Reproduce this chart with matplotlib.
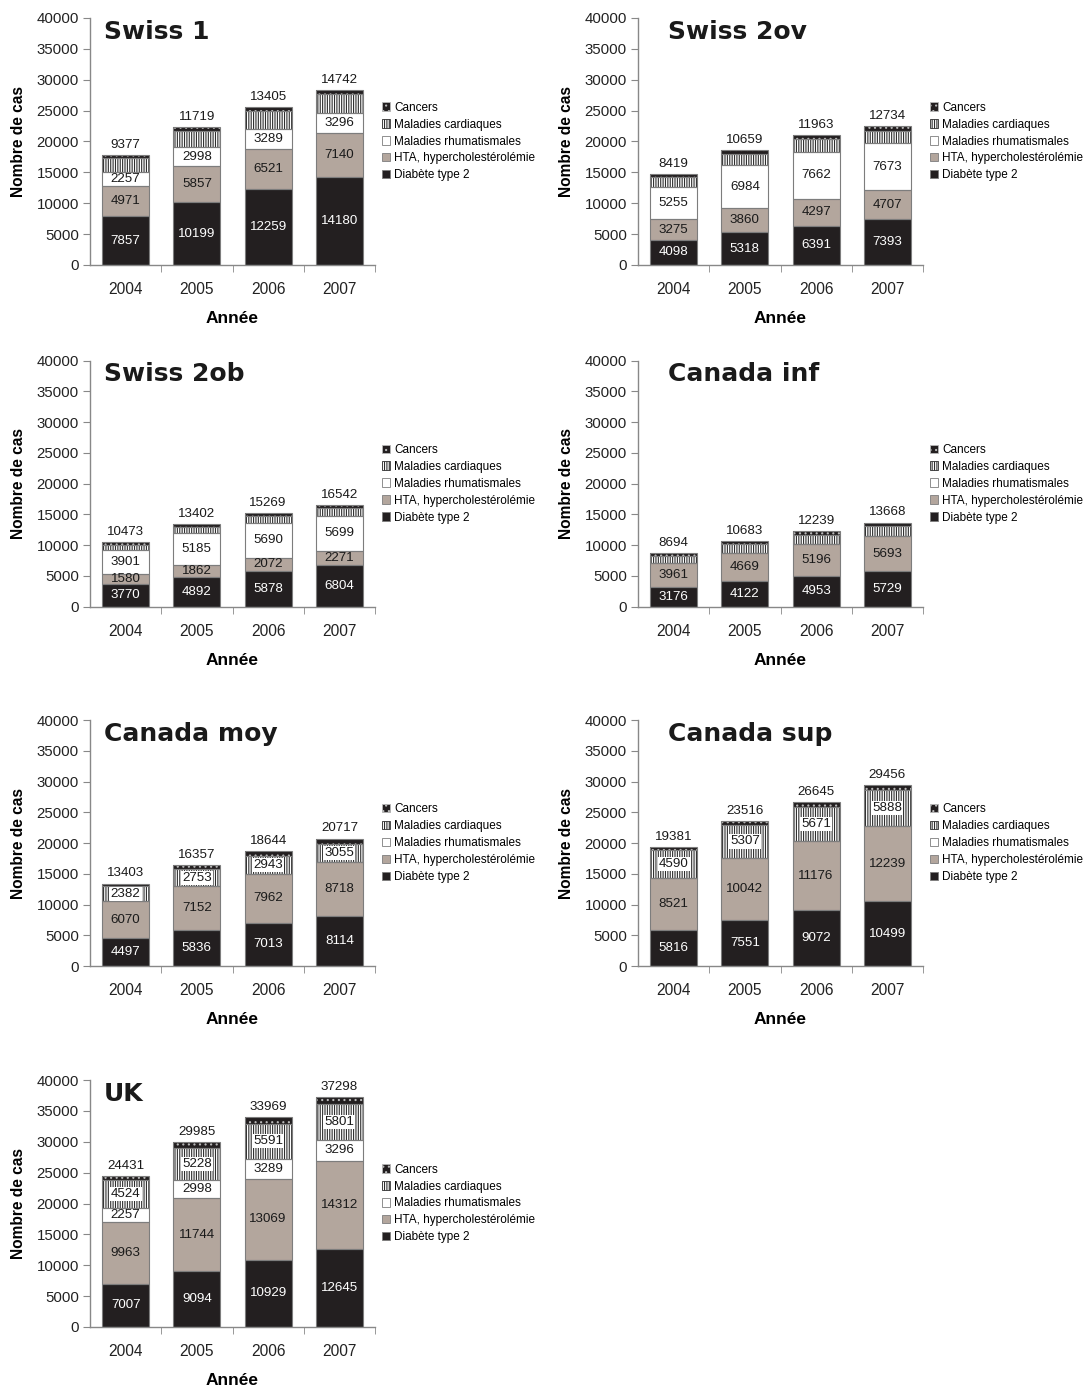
import matplotlib.pyplot as plt
from matplotlib.patches import Patch

plt.rcParams['font.family'] = ['Liberation Sans', 'DejaVu Sans']
plt.rcParams['hatch.linewidth'] = 0.8

years = ['2004', '2005', '2006', '2007']
panels = ['Swiss 1', 'Swiss 2ov', 'Swiss 2ob', 'Canada inf', 'Canada moy', 'Canada sup', 'UK']

# cases per disease group, one row per scenario
diabete = [
    [7857, 10199, 12259, 14180],
    [4098, 5318, 6391, 7393],
    [3770, 4892, 5878, 6804],
    [3176, 4122, 4953, 5729],
    [4497, 5836, 7013, 8114],
    [5816, 7551, 9072, 10499],
    [7007, 9094, 10929, 12645],
]
hta = [
    [4971, 5857, 6521, 7140],
    [3275, 3860, 4297, 4707],
    [1580, 1862, 2072, 2271],
    [3961, 4669, 5196, 5693],
    [6070, 7152, 7962, 8718],
    [8521, 10042, 11176, 12239],
    [9963, 11744, 13069, 14312],
]
rhumat = [
    [2257, 2998, 3289, 3296],
    [5255, 6984, 7662, 7673],
    [3901, 5185, 5690, 5699],
    [0, 0, 0, 0],
    [0, 0, 0, 0],
    [0, 0, 0, 0],
    [2257, 2998, 3289, 3296],
]
cardiaques = [
    [2270, 2710, 2930, 3070],
    [1660, 1840, 2000, 1990],
    [822, 993, 1109, 1208],
    [1137, 1382, 1530, 1636],
    [2382, 2753, 2943, 3055],
    [4590, 5307, 5671, 5888],
    [4524, 5228, 5591, 5801],
]
cancers = [
    [430, 540, 590, 650],
    [450, 620, 700, 800],
    [400, 470, 520, 560],
    [420, 510, 560, 610],
    [454, 616, 726, 830],
    [454, 616, 726, 830],
    [680, 921, 1091, 1244],
]
top_labels = [
    [9377, 11719, 13405, 14742],
    [8419, 10659, 11963, 12734],
    [10473, 13402, 15269, 16542],
    [8694, 10683, 12239, 13668],
    [13403, 16357, 18644, 20717],
    [19381, 23516, 26645, 29456],
    [24431, 29985, 33969, 37298],
]
# which scenarios print the values of the cardiac segment
show_card = [False, False, False, False, True, True, True]

BLACK = '#231f20'
TAUPE = '#b3a69d'
EDGE = '#7d7d7d'
AXC = '#888888'

# (label, face, hatch, hatch colour) from bottom to top
styles = [
    ('Diabète type 2', BLACK, None, EDGE),
    ('HTA, hypercholestérolémie', TAUPE, None, EDGE),
    ('Maladies rhumatismales', 'white', None, EDGE),
    ('Maladies cardiaques', 'white', '|||||||', '#2e2e2e'),
    ('Cancers', BLACK, '...', '#b8b8b8'),
]

fig = plt.figure(figsize=(10.87, 13.86), dpi=100)
W, H = 1087, 1386
lefts = [90, 638]
row_top = [18, 360.7, 720, 1080]
row_bot = [265, 606.7, 966, 1327]
title_x = [0.05, 0.105, 0.05, 0.105, 0.05, 0.105, 0.05]

x = list(range(len(years)))
for i, name in enumerate(panels):
    r, c = divmod(i, 2)
    ax = fig.add_axes([lefts[c] / W, 1 - row_bot[r] / H, 285 / W,
                       (row_bot[r] - row_top[r]) / H])
    series = [diabete[i], hta[i], rhumat[i], cardiaques[i], cancers[i]]
    bottom = [0, 0, 0, 0]
    for k, (vals, (lab, face, hatch, hc)) in enumerate(zip(series, styles)):
        ax.bar(x, vals, 0.66, bottom=bottom, color=face, hatch=hatch,
               edgecolor=hc, linewidth=0, zorder=2)
        ax.bar(x, vals, 0.66, bottom=bottom, fill=False, edgecolor=EDGE,
               linewidth=0.8, zorder=3)
        for j, v in enumerate(vals):
            if v == 0:
                continue
            yc = bottom[j] + v / 2
            if k == 0:
                ax.text(j, yc, str(v), ha='center', va='center',
                        color='white', fontsize=9.6, zorder=4)
            elif k in (1, 2):
                ax.text(j, yc, str(v), ha='center', va='center',
                        color='#1a1a1a', fontsize=9.6, zorder=4)
            elif k == 3 and show_card[i]:
                ax.text(j, yc, str(v), ha='center', va='center',
                        color='#1a1a1a', fontsize=9.6, zorder=4,
                        bbox=dict(facecolor='white', edgecolor='none', pad=0.8))
        bottom = [b + v for b, v in zip(bottom, vals)]
    for j, t in enumerate(top_labels[i]):
        ax.annotate(str(t), (j, bottom[j]), xytext=(0, 3),
                    textcoords='offset points', ha='center', va='bottom',
                    fontsize=9.6, color='#1a1a1a')

    ax.set_xlim(-0.5, 3.5)
    ax.set_ylim(0, 40000)
    ax.set_yticks(range(0, 40001, 5000))
    ax.set_xticks(x)
    ax.set_xticklabels(years)
    ax.set_xticks([0.5, 1.5, 2.5, 3.5], minor=True)
    ax.tick_params(axis='x', which='major', length=0, pad=12.5,
                   labelsize=11.2, labelcolor='#222222')
    ax.tick_params(axis='x', which='minor', length=5, color=AXC)
    ax.tick_params(axis='y', length=5, color=AXC, labelsize=10.8,
                   labelcolor='#222222', pad=3)
    for s in ('top', 'right'):
        ax.spines[s].set_visible(False)
    for s in ('left', 'bottom'):
        ax.spines[s].set_color(AXC)
        ax.spines[s].set_linewidth(1)

    ax.set_ylabel('Nombre de cas', fontsize=11.2, fontweight='bold')
    ax.yaxis.set_label_coords(-0.225, 0.5)
    ax.set_xlabel('Année', fontsize=12.5, fontweight='bold')
    ax.xaxis.set_label_coords(0.5, -0.187)
    ax.text(title_x[i], 0.945, name, transform=ax.transAxes,
            family='DejaVu Sans', fontweight='bold', fontsize=18,
            va='center', ha='left', color='#1a1a1a')

    handles = [Patch(facecolor=face, hatch=hatch, edgecolor=hc if hatch else EDGE,
                     linewidth=0.6, label=lab)
               for lab, face, hatch, hc in styles[::-1]]
    ax.legend(handles=handles, loc='center left', bbox_to_anchor=(1.025, 0.5),
              frameon=False, fontsize=8.5, handlelength=0.7,
              handleheight=0.7, handletextpad=0.3, labelspacing=0.42,
              borderpad=0, borderaxespad=0)

fig.savefig('out.png', dpi=100)
